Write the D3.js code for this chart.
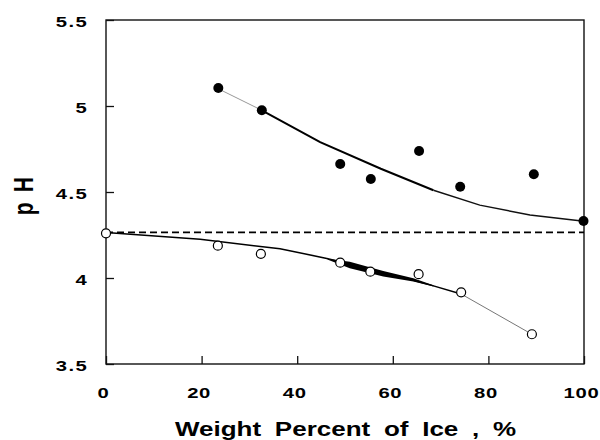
<!DOCTYPE html>
<html>
<head>
<meta charset="utf-8">
<script src="https://cdn.jsdelivr.net/npm/d3@7"></script>
<style>
  html, body { margin: 0; padding: 0; background: #fff; }
  svg { display: block; }
  text { font-family: "Liberation Sans", Arial, sans-serif; font-weight: bold; fill: #000; }
</style>
</head>
<body>
<svg id="chart" width="600" height="440"></svg>
<script>
// ---- data ----
const xTicks = [0, 20, 40, 60, 80, 100];
const xTickLabels = ["0", "20", "40", "60", "80", "100"];
const yTicks = [3.5, 4, 4.5, 5, 5.5];
const yTickLabels = ["3.5", "4", "4.5", "5", "5.5"];

// filled circles (upper series)
const filledX = [23.5, 32.6, 49.0, 55.4, 65.5, 74.1, 89.5, 99.9];
const filledY = [5.105, 4.975, 4.663, 4.576, 4.738, 4.531, 4.603, 4.331];

// open circles (lower series)
const openX = [0, 23.4, 32.4, 49.0, 55.3, 65.4, 74.3, 89.1];
const openY = [4.26, 4.188, 4.14, 4.089, 4.037, 4.022, 3.917, 3.673];

// fitted curve through filled points, split by stroke weight
const upperFitX1 = [23.5, 32.6];
const upperFitY1 = [5.10, 4.975];
const upperFitX2 = [32.6, 44.8, 57.5, 68.5];
const upperFitY2 = [4.975, 4.79, 4.635, 4.51];
const upperFitX3 = [68.5, 78.2, 88.7, 100];
const upperFitY3 = [4.51, 4.424, 4.366, 4.33];

// fitted curve through open points
const lowerFitX1 = [0, 19.7, 36.4, 46.2, 57.0, 67.8, 74.3];
const lowerFitY1 = [4.265, 4.225, 4.17, 4.114, 4.04, 3.96, 3.907];
const lowerFitX2 = [74.3, 89.1];
const lowerFitY2 = [3.907, 3.673];

// thick wedge on the lower curve
const wedgeX = [46.3, 51, 58, 64.3, 68.5];
const wedgeTop = [4.112, 4.095, 4.041, 3.998, 3.958];
const wedgeBottom = [4.108, 4.056, 4.008, 3.979, 3.95];

// dashed reference level
const refX = [0, 100];
const refLevel = 4.265;

const xLabel = "Weight Percent of Ice , %";
const yLabel = "p H";

// ---- drawing ----
const W = 600, H = 440;
const margin = {top: 20, right: 16, bottom: 76, left: 106};
const svg = d3.select("#chart");
const x = d3.scaleLinear().domain([0, 100]).range([margin.left, W - margin.right]);
const y = d3.scaleLinear().domain([3.5, 5.5]).range([H - margin.bottom, margin.top]);

// frame
svg.append("rect")
  .attr("x", x(0)).attr("y", y(5.5))
  .attr("width", x(100) - x(0)).attr("height", y(3.5) - y(5.5))
  .attr("fill", "none").attr("stroke", "#111").attr("stroke-width", 1.4);

// axes
const gx = svg.append("g").attr("transform", `translate(0,${y(3.5)})`)
  .call(d3.axisBottom(x).tickValues(xTicks).tickSize(-8).tickSizeOuter(0)
        .tickFormat((d, i) => xTickLabels[i]));
gx.select(".domain").remove();
gx.selectAll(".tick line").attr("stroke", "#111").attr("stroke-width", 1.3);
gx.selectAll(".tick text")
  .attr("x", 0).attr("y", 34).attr("dy", 0)
  .attr("transform", "translate(-3,0) scale(1.35,1)")
  .style("font-size", "15px").style("letter-spacing", "0.5px");

const gy = svg.append("g").attr("transform", `translate(${x(0)},0)`)
  .call(d3.axisLeft(y).tickValues(yTicks).tickSize(-8).tickSizeOuter(0)
        .tickFormat((d, i) => yTickLabels[i]));
gy.select(".domain").remove();
gy.selectAll(".tick line").attr("stroke", "#111").attr("stroke-width", 1.3);
gy.selectAll(".tick text")
  .attr("x", 0).attr("dy", "0.42em")
  .attr("transform", "translate(-18,0) scale(1.35,1)")
  .style("font-size", "15px").style("letter-spacing", "1px");
svg.selectAll(".tick text").attr("fill", "#000");

// dashed reference line
svg.append("line")
  .attr("x1", x(refX[0])).attr("x2", x(refX[1]))
  .attr("y1", y(refLevel)).attr("y2", y(refLevel))
  .attr("stroke", "#000").attr("stroke-width", 1.6)
  .attr("stroke-dasharray", "7,4");

const line = d3.line().x(d => x(d[0])).y(d => y(d[1]));
function seg(xs, ys, width, color) {
  svg.append("path")
    .datum(xs.map((v, i) => [v, ys[i]]))
    .attr("d", line)
    .attr("fill", "none").attr("stroke", color).attr("stroke-width", width);
}
seg(upperFitX1, upperFitY1, 1, "#999");
seg(upperFitX2, upperFitY2, 2, "#000");
seg(upperFitX3, upperFitY3, 1.4, "#111");
seg(lowerFitX1, lowerFitY1, 1.5, "#000");
seg(lowerFitX2, lowerFitY2, 1, "#777");

// wedge
svg.append("path")
  .datum(wedgeX.map((v, i) => [v, wedgeTop[i], wedgeBottom[i]]))
  .attr("d", d3.area().x(d => x(d[0])).y0(d => y(d[2])).y1(d => y(d[1])))
  .attr("fill", "#000");

// points
svg.append("g").selectAll("circle")
  .data(openX.map((v, i) => [v, openY[i]]))
  .join("circle")
  .attr("cx", d => x(d[0])).attr("cy", d => y(d[1])).attr("r", 4.5)
  .attr("fill", "#fff").attr("stroke", "#000").attr("stroke-width", 1.2);

svg.append("g").selectAll("circle")
  .data(filledX.map((v, i) => [v, filledY[i]]))
  .join("circle")
  .attr("cx", d => x(d[0])).attr("cy", d => y(d[1])).attr("r", 5)
  .attr("fill", "#000");

// axis titles
svg.append("text")
  .attr("transform", "translate(175,436) scale(1.3,1)")
  .attr("text-anchor", "start")
  .style("font-size", "20px").style("word-spacing", "5px")
  .text(xLabel);

svg.append("text")
  .attr("transform", "translate(33,195) rotate(-90) scale(0.75,1)")
  .attr("text-anchor", "middle")
  .style("font-size", "28px").style("letter-spacing", "3px")
  .text(yLabel);
</script>
</body>
</html>
